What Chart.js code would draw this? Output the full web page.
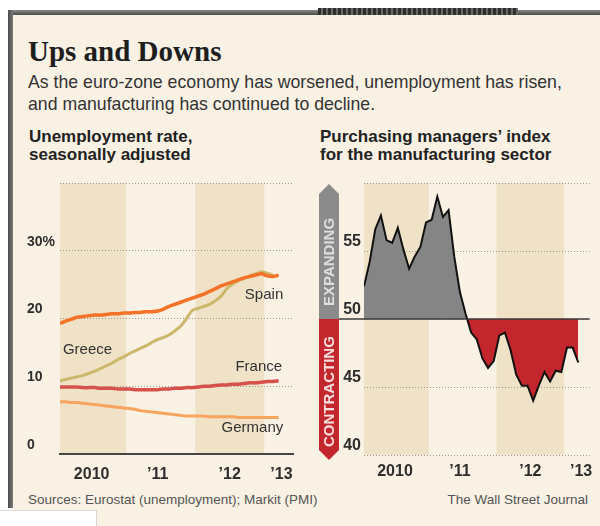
<!DOCTYPE html>
<html>
<head>
<meta charset="utf-8">
<script src="https://cdn.jsdelivr.net/npm/chart.js@4.4.1/dist/chart.umd.min.js"></script>
<style>
  html, body { margin: 0; padding: 0; background: #fff; }
  body { width: 600px; height: 526px; position: relative; overflow: hidden; font-family: "Liberation Sans", Arial, sans-serif; }
  .panel { position: absolute; left: 13px; top: 15px; right: 0; bottom: 0; background: #f9f1e4; }
  .frame-top { position: absolute; left: 8px; top: 10px; width: 592px; height: 5px; background: linear-gradient(#8a8a8a, #4a4a4a); }
  .frame-left { position: absolute; left: 8px; top: 10px; width: 5px; height: 498px; background: linear-gradient(90deg, #4a4a4a, #7a7a7a); }
  .clip { position: absolute; left: 318px; top: 8px; width: 200px; height: 7px; background: repeating-linear-gradient(90deg, #2e2e2e 0 3px, #6a6a6a 3px 5px); }
  .tab { position: absolute; left: 0; top: 510px; width: 96px; height: 16px; background: #fff; border-top: 1px solid #d6d6d6; border-right: 1px solid #d6d6d6; }
  .txt { position: absolute; white-space: nowrap; color: #2b2b2b; }
  .title { left: 28px; top: 37px; font: bold 29px/29px "Liberation Serif", "Times New Roman", serif; color: #1e1e1e; }
  .sub { left: 28px; top: 72px; font: 17.7px/21.7px "Liberation Sans", Arial, sans-serif; color: #333; }
  .head { top: 128px; font: bold 17px/18.4px "Liberation Sans", Arial, sans-serif; color: #222; }
  .src { top: 492px; font: 13.5px/16px "Liberation Sans", Arial, sans-serif; color: #555; }
  canvas { position: absolute; left: 0; top: 0; }
</style>
</head>
<body>
<div class="panel"></div>
<div class="frame-top"></div>
<div class="frame-left"></div>
<div class="clip"></div>
<div class="tab"></div>

<div class="txt title">Ups and Downs</div>
<div class="txt sub">As the euro-zone economy has worsened, unemployment has risen,<br>and manufacturing has continued to decline.</div>
<div class="txt head" style="left:29px">Unemployment rate,<br>seasonally adjusted</div>
<div class="txt head" style="left:320px">Purchasing managers’ index<br>for the manufacturing sector</div>
<div class="txt src" style="left:28px">Sources: Eurostat (unemployment); Markit (PMI)</div>
<div class="txt src" style="right:12px">The Wall Street Journal</div>

<canvas id="unemp" width="600" height="526"></canvas>
<canvas id="pmi" width="600" height="526"></canvas>

<script>
// monthly values, index 0 = Jan 2010
const spain = [19.3, 19.6, 19.9, 20.2, 20.3, 20.4, 20.5, 20.5, 20.6, 20.7, 20.7, 20.8,
  20.8, 20.9, 20.9, 21.0, 21.0, 21.1, 21.4, 21.8, 22.1, 22.4, 22.7, 23.0,
  23.3, 23.6, 24.0, 24.4, 24.8, 25.1, 25.4, 25.7, 26.0, 26.2, 26.4, 26.6,
  26.3, 26.2, 26.4];
const greece = [10.8, 11.0, 11.2, 11.4, 11.6, 11.9, 12.2, 12.6, 13.0, 13.4, 13.9, 14.3,
  14.8, 15.2, 15.6, 16.0, 16.5, 16.9, 17.2, 17.6, 18.2, 18.9, 20.0, 21.2,
  21.5, 21.8, 22.1, 22.6, 23.3, 24.4, 25.1, 25.6, 25.9, 26.3, 26.6, 26.9,
  26.7, 26.4];
const france = [9.9, 9.9, 9.9, 9.9, 9.8, 9.8, 9.8, 9.7, 9.7, 9.7, 9.6, 9.6,
  9.6, 9.5, 9.5, 9.5, 9.5, 9.5, 9.6, 9.6, 9.7, 9.7, 9.8, 9.8,
  9.9, 10.0, 10.0, 10.1, 10.2, 10.2, 10.3, 10.3, 10.4, 10.5, 10.5, 10.6,
  10.7, 10.7, 10.8];
const germany = [7.7, 7.7, 7.6, 7.6, 7.5, 7.4, 7.3, 7.2, 7.1, 7.0, 6.9, 6.8,
  6.7, 6.6, 6.4, 6.3, 6.2, 6.1, 6.0, 5.9, 5.8, 5.7, 5.6, 5.6,
  5.6, 5.6, 5.5, 5.5, 5.5, 5.5, 5.5, 5.4, 5.4, 5.4, 5.4, 5.4,
  5.4, 5.4, 5.4];
const pmi = [52.4, 54.2, 56.6, 57.6, 55.8, 55.6, 56.7, 55.1, 53.7, 54.6, 55.3, 57.1,
  57.3, 59.0, 57.5, 58.0, 54.6, 52.0, 50.4, 49.0, 48.5, 47.1, 46.4, 46.9,
  48.8, 49.0, 47.7, 45.9, 45.1, 45.1, 44.0, 45.1, 46.1, 45.4, 46.2, 46.1,
  47.9, 47.9, 46.8];

const yearTickPos = [5.5, 17, 29.5, 38.5];
const yearTickLabels = ['2010', '’11', '’12', '’13'];
const shadedSpans = [[0, 11.5], [23.5, 35.5]];   // 2010 and 2012, in month index

const seriesLabels = [
  { text: 'Spain', x: 38.8, y: 23.5, align: 'right' },
  { text: 'Greece', x: 0.5, y: 15.4, align: 'left' },
  { text: 'France', x: 38.6, y: 12.8, align: 'right' },
  { text: 'Germany', x: 38.8, y: 3.8, align: 'right' }
];

const pts = arr => arr.map((v, i) => ({ x: i, y: v }));
const SANS = '"Liberation Sans", Arial, sans-serif';

const bandsPlugin = {
  id: 'bands',
  beforeDraw(chart) {
    const { ctx, chartArea: a, scales: { x } } = chart;
    ctx.save();
    ctx.fillStyle = '#efe2c7';
    shadedSpans.forEach(([s, e]) => {
      const x0 = x.getPixelForValue(s), x1 = x.getPixelForValue(e);
      ctx.fillRect(x0, a.top, x1 - x0, a.bottom - a.top);
    });
    ctx.restore();
  }
};

const labelsPlugin = {
  id: 'seriesLabels',
  afterDatasetsDraw(chart) {
    const { ctx, scales: { x, y } } = chart;
    ctx.save();
    ctx.font = '15px ' + SANS;
    ctx.fillStyle = '#333';
    ctx.textBaseline = 'middle';
    seriesLabels.forEach(l => {
      ctx.textAlign = l.align;
      ctx.fillText(l.text, x.getPixelForValue(l.x), y.getPixelForValue(l.y));
    });
    ctx.restore();
  }
};

const arrowPlugin = {
  id: 'arrow',
  afterDraw(chart) {
    const { ctx, chartArea: a, scales: { y } } = chart;
    const top = y.getPixelForValue(60), mid = y.getPixelForValue(50), bot = y.getPixelForValue(40);
    const l = 319, r = 339, c = (l + r) / 2;
    ctx.save();
    ctx.fillStyle = '#8b8b8b';
    ctx.beginPath();
    ctx.moveTo(c, top + 1); ctx.lineTo(r, top + 11); ctx.lineTo(r, mid);
    ctx.lineTo(l, mid); ctx.lineTo(l, top + 11); ctx.closePath(); ctx.fill();
    ctx.fillStyle = '#c4262d';
    ctx.beginPath();
    ctx.moveTo(l, mid); ctx.lineTo(r, mid); ctx.lineTo(r, bot - 5);
    ctx.lineTo(c, bot + 5); ctx.lineTo(l, bot - 5); ctx.closePath(); ctx.fill();

    // the 50 line
    ctx.strokeStyle = '#3a3a3a';
    ctx.lineWidth = 1.5;
    ctx.beginPath(); ctx.moveTo(r, mid); ctx.lineTo(a.right, mid); ctx.stroke();

    ctx.font = 'bold 15px ' + SANS;
    ctx.textAlign = 'left';
    ctx.textBaseline = 'middle';
    ctx.save();
    ctx.translate(c + 1, mid - 13); ctx.rotate(-Math.PI / 2);
    ctx.fillStyle = '#dedede';
    ctx.fillText('EXPANDING', 0, 0);
    ctx.restore();
    ctx.translate(c + 1, bot - 8); ctx.rotate(-Math.PI / 2);
    ctx.fillStyle = '#f6dede';
    ctx.fillText('CONTRACTING', 0, 0);
    ctx.restore();
  }
};

const yearAxis = (padding, max) => ({
  type: 'linear', min: 0, max: max,
  afterBuildTicks: axis => { axis.ticks = yearTickPos.map(v => ({ value: v })); },
  afterFit: axis => { axis.height = 30; },
  grid: { display: false, drawTicks: false },
  ticks: {
    autoSkip: false, maxRotation: 0, padding: padding,
    font: { family: SANS, size: 16, weight: 'bold' }, color: '#2e2e2e',
    callback: (v, i) => yearTickLabels[i]
  }
});

const common = {
  responsive: false, animation: false, events: [],
  plugins: { legend: { display: false }, tooltip: { enabled: false } },
  elements: { point: { radius: 0 } }
};

new Chart(document.getElementById('unemp'), {
  type: 'line',
  data: {
    datasets: [
      { label: 'Spain', data: pts(spain), borderColor: '#f37227', borderWidth: 3.5, tension: 0.3 },
      { label: 'France', data: pts(france), borderColor: '#d6504c', borderWidth: 3.5, tension: 0.3 },
      { label: 'Greece', data: pts(greece), borderColor: '#cbb86a', borderWidth: 3, tension: 0.3 },
      { label: 'Germany', data: pts(germany), borderColor: '#f6a45e', borderWidth: 3, tension: 0.3 }
    ]
  },
  options: Object.assign({}, common, {
    layout: { padding: { left: 27, right: 307, top: 183, bottom: 42 } },
    scales: {
      x: Object.assign(yearAxis(11.4, 40.5), { border: { display: true, color: '#454545', width: 2 } }),
      y: {
        min: 0, max: 40,
        afterFit: axis => { axis.width = 33; },
        grid: { color: '#9a9a9a', lineWidth: 1, drawTicks: false },
        border: { display: false, dash: [1, 2] },
        ticks: {
          stepSize: 10, crossAlign: 'far', labelOffset: -9, padding: 0,
          font: { family: SANS, size: 14, weight: 'bold' }, color: '#2e2e2e',
          callback: v => v === 40 ? '' : (v === 30 ? v + '%' : v)
        }
      }
    }
  }),
  plugins: [bandsPlugin, labelsPlugin]
});

new Chart(document.getElementById('pmi'), {
  type: 'line',
  data: {
    datasets: [{
      label: 'PMI', data: pts(pmi), borderColor: '#111', borderWidth: 2, tension: 0,
      fill: { target: { value: 50 }, above: '#858585', below: '#c3262d' }
    }]
  },
  options: Object.assign({}, common, {
    layout: { padding: { left: 340, right: 10, top: 183, bottom: 41 } },
    scales: {
      x: Object.assign(yearAxis(7.4, 40), { border: { display: false } }),
      y: {
        min: 40, max: 60,
        afterFit: axis => { axis.width = 24; },
        grid: { color: '#9a9a9a', lineWidth: 1, drawTicks: false },
        border: { display: false, dash: [1, 2] },
        ticks: {
          stepSize: 5, labelOffset: -9, padding: 3,
          font: { family: SANS, size: 16, weight: 'bold' }, color: '#2e2e2e',
          callback: v => v === 60 ? '' : v
        }
      }
    }
  }),
  plugins: [bandsPlugin, arrowPlugin]
});
</script>
</body>
</html>
